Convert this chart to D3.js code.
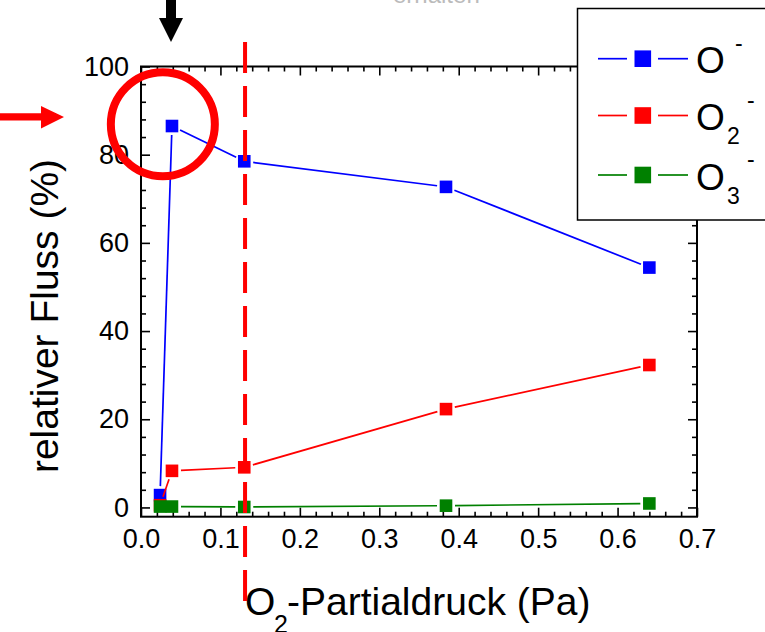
<!DOCTYPE html>
<html>
<head>
<meta charset="utf-8">
<script src="https://cdn.jsdelivr.net/npm/d3@7"></script>
<style>
  body { margin: 0; background: #fff; }
  svg { display: block; font-family: "Liberation Sans", Arial, sans-serif; }
</style>
</head>
<body>
<svg id="chart" width="765" height="632"></svg>
<script>
// O2-Partialdruck (Pa)
var pressure = [0.024, 0.039, 0.130, 0.384, 0.640];
// relativer Fluss (%)
var fluxO1 = [2.8, 86.5, 78.5, 72.7, 54.4];
var fluxO2 = [0.5, 8.3, 9.1, 22.3, 32.3];
var fluxO3 = [0.2, 0.2, 0.1, 0.4, 0.9];
var xTicks = [0, 0.1, 0.2, 0.3, 0.4, 0.5, 0.6, 0.7];
var yTicks = [0, 20, 40, 60, 80, 100];
var markedPressure = 0.131;

var series = [
    {name: "O", sub: "", values: fluxO1, color: "#0000ff"},
    {name: "O", sub: "2", values: fluxO2, color: "#ff0000"},
    {name: "O", sub: "3", values: fluxO3, color: "#008000"}
];

(function () {
    var svg = d3.select("#chart");
    var pl = 141, pr = 697, pt = 66.5, pb = 516.7;

    var x = d3.scaleLinear().domain([0, 0.7]).range([pl, pr]);
    var y = d3.scaleLinear().domain([-2.1, 100]).range([pb, pt]);

    var xMinor = d3.range(0, 0.7001, 0.02).filter(function (v) { return Math.abs(v * 10 - Math.round(v * 10)) > 1e-6; });
    var yMinor = d3.range(0, 100.1, 4).filter(function (v) { return v % 20 !== 0; });

    function axisGroup(axis, tx, ty) {
        var g = svg.append("g").attr("transform", "translate(" + tx + "," + ty + ")").call(axis);
        g.attr("font-size", 27).attr("font-family", "Liberation Sans, Arial, sans-serif");
        g.select(".domain").remove();
        g.selectAll("line").attr("stroke", "#000").attr("stroke-width", 1.6);
        g.selectAll("text").attr("fill", "#000");
        return g;
    }

    // ticks point inward on all four sides
    axisGroup(d3.axisBottom(x).tickValues(xTicks).tickFormat(d3.format(".1f")).tickSize(-9).tickPadding(12), 0, pb);
    axisGroup(d3.axisBottom(x).tickValues(xMinor).tickFormat("").tickSize(-5), 0, pb);
    axisGroup(d3.axisTop(x).tickValues(xTicks).tickFormat("").tickSize(-9), 0, pt);
    axisGroup(d3.axisTop(x).tickValues(xMinor).tickFormat("").tickSize(-5), 0, pt);
    axisGroup(d3.axisLeft(y).tickValues(yTicks).tickFormat(d3.format("d")).tickSize(-9).tickPadding(12), pl, 0);
    axisGroup(d3.axisLeft(y).tickValues(yMinor).tickFormat("").tickSize(-5), pl, 0);
    axisGroup(d3.axisRight(y).tickValues(yTicks).tickFormat("").tickSize(-9), pr, 0);
    axisGroup(d3.axisRight(y).tickValues(yMinor).tickFormat("").tickSize(-5), pr, 0);

    svg.append("rect")
        .attr("x", pl).attr("y", pt)
        .attr("width", pr - pl).attr("height", pb - pt)
        .attr("fill", "none").attr("stroke", "#000").attr("stroke-width", 2);

    // lines with a small gap around each marker
    var gap = 9, ms = 12.6;
    series.forEach(function (s) {
        var pts = pressure.map(function (p, i) { return [x(p), y(s.values[i])]; });
        var segs = d3.pairs(pts).map(function (p) {
            var dx = p[1][0] - p[0][0], dy = p[1][1] - p[0][1];
            var len = Math.sqrt(dx * dx + dy * dy);
            if (len <= 2 * gap) return null;
            var ux = dx / len, uy = dy / len;
            return [[p[0][0] + ux * gap, p[0][1] + uy * gap], [p[1][0] - ux * gap, p[1][1] - uy * gap]];
        }).filter(Boolean);
        var g = svg.append("g");
        g.selectAll("line").data(segs).join("line")
            .attr("x1", function (d) { return d[0][0]; }).attr("y1", function (d) { return d[0][1]; })
            .attr("x2", function (d) { return d[1][0]; }).attr("y2", function (d) { return d[1][1]; })
            .attr("stroke", s.color).attr("stroke-width", 1.7);
        g.selectAll("rect").data(pts).join("rect")
            .attr("x", function (d) { return d[0] - ms / 2; }).attr("y", function (d) { return d[1] - ms / 2; })
            .attr("width", ms).attr("height", ms)
            .attr("fill", s.color);
    });

    // axis titles
    svg.append("text")
        .attr("transform", "translate(58,316) rotate(-90)")
        .attr("text-anchor", "middle").attr("font-size", 39).attr("fill", "#000")
        .text("relativer Fluss (%)");

    var xt = svg.append("g").attr("fill", "#000");
    xt.append("text").attr("x", 245).attr("y", 615).attr("font-size", 39).text("O");
    xt.append("text").attr("x", 274).attr("y", 633).attr("font-size", 25).text("2");
    xt.append("text").attr("x", 287).attr("y", 615).attr("font-size", 39).text("-Partialdruck (Pa)");

    // legend
    var lg = svg.append("g");
    lg.append("rect").attr("x", 577.5).attr("y", 8.5).attr("width", 200).attr("height", 211.5)
        .attr("fill", "#fff").attr("stroke", "#000").attr("stroke-width", 1.5);
    var legendY = [58.7, 115.5, 175];
    series.forEach(function (s, i) {
        var ly = legendY[i];
        lg.append("line").attr("x1", 598).attr("x2", 627).attr("y1", ly).attr("y2", ly).attr("stroke", s.color).attr("stroke-width", 1.7);
        lg.append("line").attr("x1", 658).attr("x2", 688).attr("y1", ly).attr("y2", ly).attr("stroke", s.color).attr("stroke-width", 1.7);
        lg.append("rect").attr("x", 634.5).attr("y", ly - 8.3).attr("width", 16.6).attr("height", 16.6).attr("fill", s.color);
        lg.append("text").attr("x", 696).attr("y", ly + 14.5).attr("font-size", 37).attr("fill", "#000").text(s.name);
        if (s.sub) {
            lg.append("text").attr("x", 727).attr("y", ly + 28.5).attr("font-size", 23).attr("fill", "#000").text(s.sub);
            lg.append("text").attr("x", 747).attr("y", ly - 8).attr("font-size", 23).attr("fill", "#000").text("-");
        } else {
            lg.append("text").attr("x", 735).attr("y", ly - 8).attr("font-size", 23).attr("fill", "#000").text("-");
        }
    });

    // annotations: dashed marker line, circle and arrows
    svg.append("line")
        .attr("x1", x(markedPressure)).attr("x2", x(markedPressure))
        .attr("y1", 42).attr("y2", 601)
        .attr("stroke", "#ff0000").attr("stroke-width", 4).attr("stroke-dasharray", "31,13");

    svg.append("circle")
        .attr("cx", x(0.0275)).attr("cy", y(86.9)).attr("r", 52)
        .attr("fill", "none").attr("stroke", "#ff0000").attr("stroke-width", 8);

    svg.append("path")
        .attr("d", "M0,113.3 L41,113.3 L41,106 L64,117 L41,128.5 L41,120.5 L0,120.5 Z")
        .attr("fill", "#ff0000");

    svg.append("path")
        .attr("d", "M166,0 L176,0 L176,18 L183,18 L171,42 L159,18 L166,18 Z")
        .attr("fill", "#000");

    svg.append("text").attr("x", 393).attr("y", 3).attr("font-size", 24).attr("fill", "#bbb").text("erhalten");
})();
</script>
</body>
</html>
